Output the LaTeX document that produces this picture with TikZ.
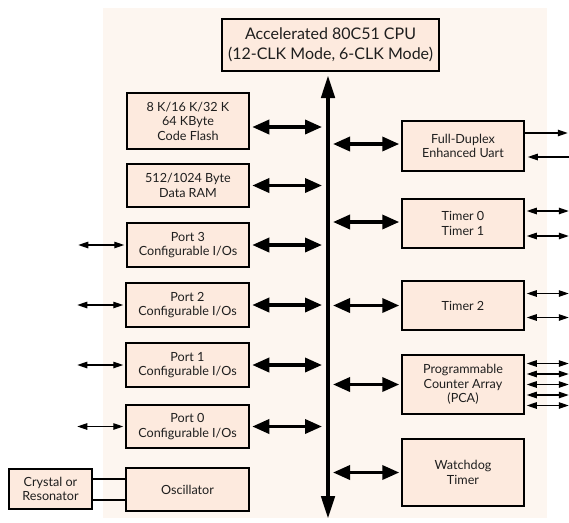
\documentclass[tikz,border=0pt]{standalone}
\usepackage{fontspec}
\setmainfont{Lato}
\usetikzlibrary{arrows.meta}
\definecolor{panelcol}{RGB}{253, 246, 240}
\definecolor{boxcol}  {RGB}{253, 234, 222}
\definecolor{inkcol}  {RGB}{30,  30,  30}

\begin{document}
\begin{tikzpicture}[x=1pt, y=-1pt,
  every node/.style={font=\fontsize{12.6}{14.5}\selectfont, text=inkcol},
  blk/.style={draw=black, line width=1.5pt, fill=boxcol, align=center,
    inner sep=0pt},
  busline/.style={line width=4.5pt, {Triangle[length=23pt, width=13pt]}-{Triangle[length=23pt, width=13pt]}},
  buslink/.style={line width=3.5pt, {Triangle[length=17pt, width=14pt]}-{Triangle[length=17pt, width=14pt]}},
  iolink/.style={line width=1.2pt, {Triangle[length=10pt, width=6.5pt]}-{Triangle[length=10pt, width=6.5pt]}},
  ioout/.style={line width=1.2pt, -{Triangle[length=10pt, width=6.5pt]}},
  wire/.style={line width=2pt},
]

\useasboundingbox (0,0) rectangle (569,522);
\fill[panelcol] (103,8) rectangle (547,518);

% ── CPU and bus ─────────────────────────────────────────────
\node[blk, minimum width=217pt, minimum height=52pt,
  font=\fontsize{16}{20.5}\selectfont] (cpu) at (330.5,45)
  {Accelerated 80C51 CPU\\(12-CLK Mode, 6-CLK Mode)};

\coordinate (bustop) at (328,75);
\coordinate (busbot) at (328,519);
\coordinate (busL) at (322,0);
\coordinate (busR) at (333,0);
\draw[busline] (busbot) -- (bustop);

% ── left column: memories and ports ─────────────────────────
\node[blk, minimum width=122pt, minimum height=56pt] (flash) at (188,121)
  {8 K/16 K/32 K\\64 KByte\\Code Flash};
\node[blk, minimum width=122pt, minimum height=43pt] (ram) at (188,185.5)
  {512/1024 Byte\\Data RAM};
\node[blk, minimum width=122pt, minimum height=44pt] (port3) at (188,245)
  {Port 3\\Configurable I/Os};
\node[blk, minimum width=123pt, minimum height=44pt] (port2) at (187.5,305)
  {Port 2\\Configurable I/Os};
\node[blk, minimum width=123pt, minimum height=44pt] (port1) at (187.5,365)
  {Port 1\\Configurable I/Os};
\node[blk, minimum width=123pt, minimum height=43pt] (port0) at (187.5,426.5)
  {Port 0\\Configurable I/Os};
\node[blk, minimum width=123pt, minimum height=43pt] (osc) at (187.5,489.5)
  {Oscillator};
\node[blk, minimum width=83pt, minimum height=40pt] (xtal) at (50.5,489)
  {Crystal or\\Resonator};

% 左側のバス接続
\draw[buslink, shorten <=2.5pt] ([yshift=-6pt]flash.east) -- ([yshift=-6pt]flash.east -| busL);
\foreach \blkname in {ram, port3, port2, port1, port0}
  \draw[buslink, shorten <=2.5pt] (\blkname.east) -- (\blkname.east -| busL);

% 外部 I/O
\foreach \blkname in {port3, port2, port1, port0}
  \draw[iolink, shorten <=2pt] (\blkname.west) -- ++(-48,0);

% 水晶 ↔ 発振器
\draw[wire] ([yshift=10.5pt]xtal.east) -- ([yshift=10.5pt]xtal.east -| osc.west);
\draw[wire] ([yshift=-10.5pt]xtal.east) -- ([yshift=-10.5pt]xtal.east -| osc.west);

% ── right column: peripherals ───────────────────────────────
\node[blk, minimum width=122pt, minimum height=50pt] (uart) at (463,146)
  {Full-Duplex\\Enhanced Uart};
\node[blk, minimum width=122pt, minimum height=49pt] (tmr01) at (463,223.5)
  {Timer 0\\Timer 1};
\node[blk, minimum width=122pt, minimum height=49pt] (tmr2) at (463,305.5)
  {Timer 2};
\node[blk, minimum width=122pt, minimum height=59pt] (pca) at (463,384.5)
  {Programmable\\Counter Array\\(PCA)};
\node[blk, minimum width=122pt, minimum height=67pt] (wdt) at (463,472.5)
  {Watchdog\\Timer};

% 右側のバス接続
\draw[buslink, shorten >=2pt] ([yshift=2pt]uart.west -| busR) -- ([yshift=2pt]uart.west);
\draw[buslink, shorten >=2pt] ([yshift=1.5pt]tmr01.west -| busR) -- ([yshift=1.5pt]tmr01.west);
\foreach \blkname in {tmr2, pca, wdt}
  \draw[buslink, shorten >=2pt] (\blkname.west -| busR) -- (\blkname.west);

% 外部 I/O
\draw[ioout] ([yshift=13pt]uart.east) -- ++(43,0);
\draw[ioout, shorten >=3pt] ([yshift=-11pt, xshift=44pt]uart.east) -- ([yshift=-11pt]uart.east);
\foreach \dy in {12.5,-12.5}
  \draw[iolink, shorten <=2pt] ([yshift=\dy pt]tmr01.east) -- ++(44,0);
\foreach \dy in {12,-12}
  \draw[iolink, shorten <=2pt] ([yshift=\dy pt]tmr2.east) -- ++(44,0);
\foreach \dy in {21,10.5,0,-10.5,-21}
  \draw[iolink, shorten <=2pt] ([yshift=\dy pt]pca.east) -- ++(44,0);

\end{tikzpicture}
\end{document}
